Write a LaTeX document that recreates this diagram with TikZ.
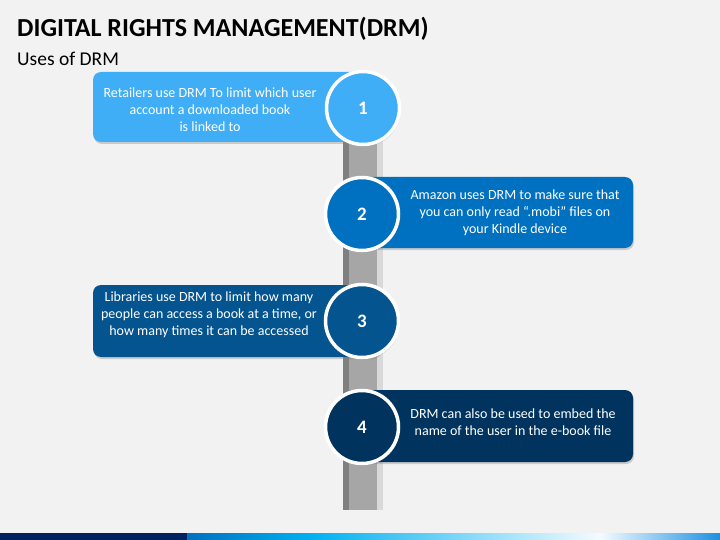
\documentclass[tikz,border=0pt]{standalone}
\usepackage{fontspec}
\setmainfont{Carlito}
\usetikzlibrary{shadows}
\definecolor{bg}{HTML}{F2F2F2}
\definecolor{cA}{HTML}{40AEF6}
\definecolor{cB}{HTML}{0070C0}
\definecolor{cC}{HTML}{045490}
\definecolor{cD}{HTML}{00345E}
\definecolor{navy}{HTML}{002060}
\definecolor{poleD}{HTML}{808080}
\definecolor{poleM}{HTML}{A6A6A6}
\definecolor{poleL}{HTML}{D9D9D9}
\definecolor{gCyan}{HTML}{00B0F0}
\definecolor{gWhite}{HTML}{F5FBFF}
\definecolor{gBlue}{HTML}{1E90E0}
\tikzset{
  x=1pt,y=1pt,
  usebox/.style={rounded corners=8pt, drop shadow={opacity=0.35, shadow xshift=1pt, shadow yshift=-2pt}},
  usetext/.style={text=white, align=center, font=\fontsize{14}{17}\selectfont},
  numcirc/.style={circle, draw=white, line width=3.5pt, minimum size=73pt, inner sep=0pt, text=white, font=\fontsize{19}{22}\bfseries\selectfont, drop shadow={opacity=0.35, shadow xshift=1pt, shadow yshift=-2pt}}
}
\begin{document}
\begin{tikzpicture}
\fill[bg] (0,0) rectangle (720,-540);
\useasboundingbox (0,0) rectangle (720,-540);
% title
\node[anchor=base west, inner sep=0pt, font=\fontsize{26}{30}\bfseries\selectfont] (title) at (17,-37) {DIGITAL RIGHTS MANAGEMENT(DRM)};
\node[anchor=base west, inner sep=0pt, font=\fontsize{19.5}{23}\selectfont] (sub) at (17,-66) {Uses of DRM};
% pole
\fill[poleD] (343,-108) rectangle (349,-510);
\fill[poleM] (349,-108) rectangle (377,-510);
\fill[poleL] (377,-108) rectangle (383,-510);
% boxes
\path[usebox, fill=cA] (93,-72) rectangle (380,-142);
\path[usebox, fill=cB] (345,-177) rectangle (633,-248);
\path[usebox, fill=cC] (93,-285) rectangle (380,-357);
\path[usebox, fill=cD] (345,-390) rectangle (633,-462);
% texts
\node[usetext] (t1) at (210,-110) {Retailers use DRM To limit which user\\account a downloaded book\\is linked to};
\node[usetext] (t2) at (515,-213) {Amazon uses DRM to make sure that\\you can only read “.mobi” files on\\your Kindle device};
\node[usetext] (t3) at (209,-315) {Libraries use DRM to limit how many\\people can access a book at a time, or\\how many times it can be accessed};
\node[usetext] (t4) at (513,-422) {DRM can also be used to embed the\\name of the user in the e-book file};
% circles
\node[numcirc, fill=cA] (c1) at (363,-108) {1};
\node[numcirc, fill=cB] (c2) at (362,-214) {2};
\node[numcirc, fill=cC] (c3) at (362,-321) {3};
\node[numcirc, fill=cD] (c4) at (362,-427) {4};
% bottom bar
\fill[navy] (0,-533) rectangle (188,-540);
\shade[left color=cB, right color=gCyan] (187,-533) rectangle (311,-540);
\shade[left color=gCyan, right color=gWhite] (310,-533) rectangle (601,-540);
\shade[left color=gWhite, right color=gBlue] (600,-533) rectangle (720,-540);
\end{tikzpicture}
\end{document}
